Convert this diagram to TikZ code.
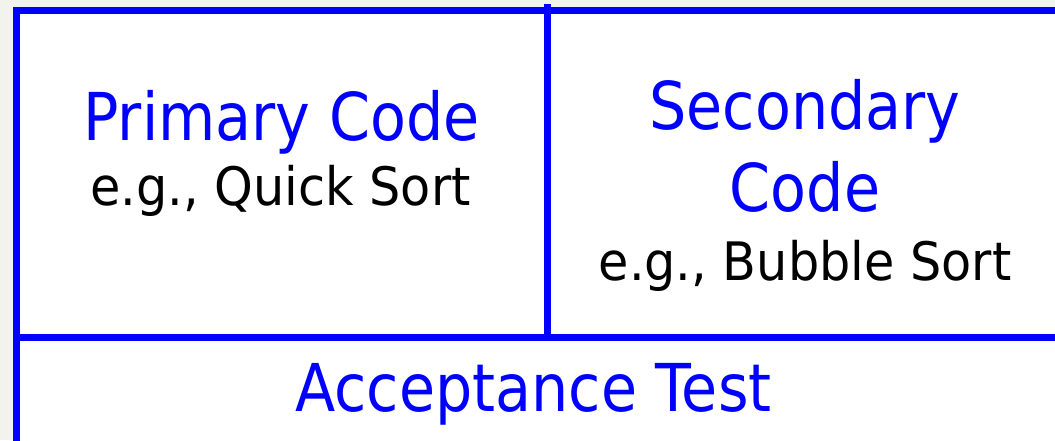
\documentclass[tikz,border=0pt]{standalone}
\usepackage{fontspec}
\newfontfamily\tahomalike[FakeStretch=0.89]{DejaVu Sans}
\newfontfamily\tahomawide[FakeStretch=0.93]{DejaVu Sans}
\definecolor{bgray}{RGB}{243,243,238}
\definecolor{pblue}{RGB}{0,0,255}
\tikzset{
  frame/.style={draw=pblue, line width=6.5pt},
  bluetext/.style={anchor=base, inner sep=0pt, text=pblue, font=\tahomalike\fontsize{66}{80}\selectfont},
  blacktext/.style={anchor=base, inner sep=0pt, text=black, font=\tahomawide\fontsize{53}{64}\selectfont},
}
\begin{document}
\begin{tikzpicture}[x=1pt,y=1pt]
\useasboundingbox (0,0) rectangle (1055,440);
\clip (0,0) rectangle (1055,440);
\fill[bgray] (0,0) rectangle (1055,440);
\fill[white] (16.5,-20) rectangle (1080,429.5);
\draw[frame] (16.5,-20) -- (16.5,429.5) -- (1080,429.5);
\draw[frame] (16.5,102.5) -- (1080,102.5);
\draw[frame] (547.5,436) -- (547.5,102.5);
\node[bluetext] (primary) at (281.5,299) {Primary Code};
\node[blacktext] (quick) at (280.5,235) {e.g., Quick Sort};
\node[bluetext] (secondary) at (805,310) {Secondary};
\node[bluetext] (code) at (805,229) {Code};
\node[blacktext] (bubble) at (805,160) {e.g., Bubble Sort};
\node[bluetext] (accept) at (533.5,29) {Acceptance Test};
\end{tikzpicture}
\end{document}
